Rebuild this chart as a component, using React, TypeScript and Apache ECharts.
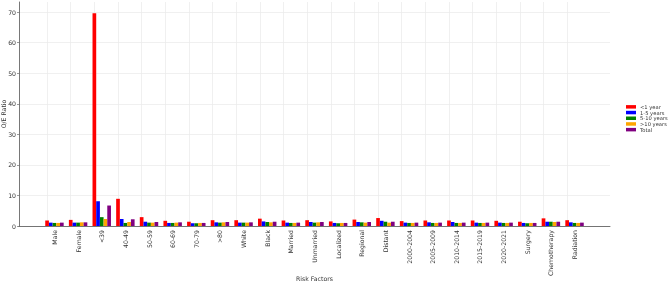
import React, { useEffect, useRef } from "react";
import * as echarts from "echarts";

const categories = [
  "Male", "Female", "<39", "40-49", "50-59", "60-69", "70-79", ">80",
  "White", "Black", "Married", "Unmarried", "Localized", "Regional", "Distant",
  "2000-2004", "2005-2009", "2010-2014", "2015-2019", "2020-2021",
  "Surgery", "Chemotherapy", "Radiation",
];

const seriesNames = ["<1 year", "1-5 years", "5-10 years", ">10 years", "Total"];
const seriesColors = ["#ff0000", "#0000ff", "#008000", "#ffa500", "#800080"];

const lessThan1Year = [1.8, 2.0, 69.6, 8.9, 2.9, 1.7, 1.4, 1.9, 1.9, 2.4, 1.8, 1.9, 1.5, 2.1, 2.6, 1.6, 1.8, 1.8, 1.8, 1.7, 1.4, 2.5, 1.9];
const oneTo5Years = [1.1, 1.1, 8.1, 2.3, 1.4, 1.0, 0.9, 1.2, 1.1, 1.5, 1.1, 1.3, 1.0, 1.3, 1.7, 1.1, 1.2, 1.3, 1.1, 1.1, 1.0, 1.4, 1.2];
const fiveTo10Years = [1.0, 1.1, 2.9, 1.0, 1.1, 1.0, 0.9, 1.1, 1.1, 1.3, 1.0, 1.1, 0.9, 1.2, 1.4, 1.0, 1.0, 1.0, 1.0, 1.0, 0.9, 1.4, 1.0];
const moreThan10Years = [1.0, 1.2, 2.3, 1.3, 1.1, 1.1, 1.0, 1.2, 1.1, 1.2, 1.0, 1.2, 1.0, 1.1, 1.1, 1.0, 1.0, 1.0, 1.0, 1.0, 1.0, 1.3, 1.0];
const total = [1.1, 1.2, 6.7, 2.2, 1.3, 1.2, 1.0, 1.3, 1.2, 1.4, 1.1, 1.3, 1.0, 1.3, 1.4, 1.1, 1.1, 1.1, 1.1, 1.1, 1.0, 1.4, 1.1];

const yTicks = [0, 10, 20, 30, 40, 50, 60, 70];

const FONT = "DejaVu Sans";

export default function App() {
  const ref = useRef<HTMLDivElement>(null);
  useEffect(() => {
    if (!ref.current) return;
    const chart = echarts.init(ref.current, null, { renderer: "svg" });
    const axisCats = [" ", ...categories, "  "];
    const values = [lessThan1Year, oneTo5Years, fiveTo10Years, moreThan10Years, total];
    const series: any[] = values.map((vals, i) => ({
      name: seriesNames[i],
      type: "bar",
      data: [null, ...vals, null],
      itemStyle: { color: seriesColors[i] },
      barWidth: "15.6%",
      barGap: "0%",
      z: 3,
      ...(i === 0
        ? {
            markLine: {
              silent: true,
              symbol: "none",
              label: { show: false },
              lineStyle: { color: "#ececec", width: 0.8, type: "solid" },
              z: 1,
              data: categories.map((c) => ({ xAxis: c })),
            },
          }
        : {}),
    }));
    chart.setOption({
      animation: false,
      textStyle: { fontFamily: FONT },
      legend: {
        orient: "vertical",
        left: 626,
        top: 104,
        padding: 0,
        icon: "rect",
        itemWidth: 10,
        itemHeight: 3.5,
        itemGap: 0,
        textStyle: { fontSize: 5.2, color: "#333", fontFamily: FONT, lineHeight: 5.7, padding: [0, 0, 0, -1] },
        data: seriesNames,
      },
      grid: { left: 19, right: 59, top: 2, bottom: 57, containLabel: false, outerBoundsMode: "none" },
      xAxis: {
        type: "category",
        data: axisCats,
        boundaryGap: true,
        name: "Risk Factors",
        nameLocation: "middle",
        nameGap: 49,
        nameMoveOverlap: false,
        nameTextStyle: { fontSize: 6.2, color: "#333", fontFamily: FONT },
        axisLine: { lineStyle: { color: "#555", width: 0.8 } },
        axisTick: { show: false },
        splitLine: { show: false },
        axisLabel: {
          rotate: 90,
          interval: 0,
          fontSize: 6.2,
          color: "#333",
          fontFamily: FONT,
          margin: 4,
        },
      },
      yAxis: {
        type: "value",
        min: 0,
        max: 73.3,
        interval: 10,
        name: "O/E Ratio",
        nameLocation: "middle",
        nameGap: 13,
        nameMoveOverlap: false,
        nameTextStyle: { fontSize: 6.2, color: "#333", fontFamily: FONT },
        axisLine: { show: true, lineStyle: { color: "#555", width: 0.8 } },
        axisTick: { show: true, length: 2, lineStyle: { color: "#555", width: 0.6 } },
        splitLine: { show: true, showMaxLine: false, lineStyle: { color: "#ececec", width: 0.8 } },
        axisLabel: {
          fontSize: 6.2,
          color: "#333",
          fontFamily: FONT,
          margin: 3,
          showMaxLabel: false,
          formatter: (v: number) => (yTicks.includes(v) ? String(v) : ""),
        },
      },
      series,
    });
    return () => chart.dispose();
  }, []);
  return (
    <div
      ref={ref}
      style={{ position: "fixed", left: 0, top: 0, width: 669, height: 283 }}
    />
  );
}
